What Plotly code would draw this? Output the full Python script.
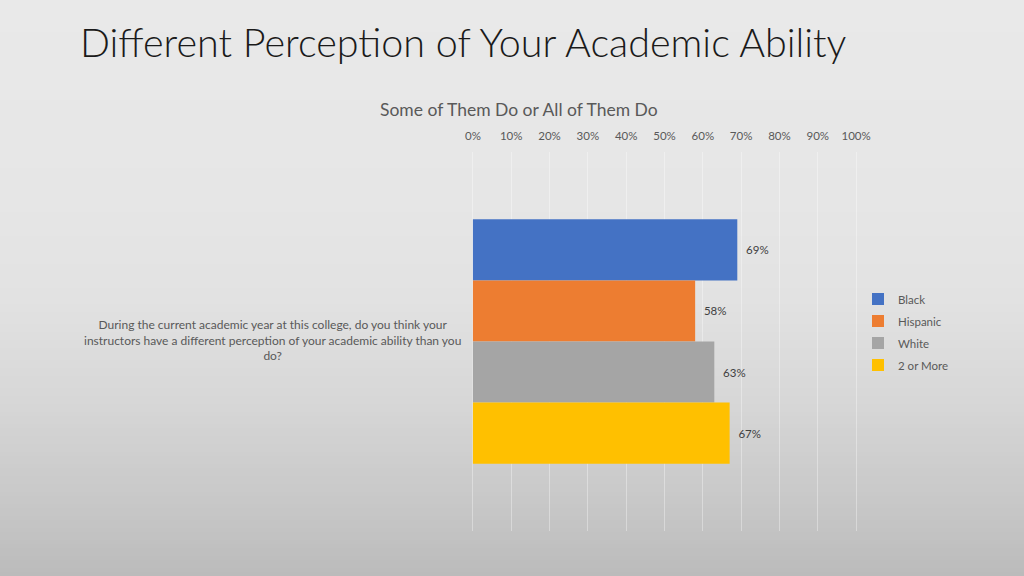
import plotly.graph_objects as go

categories = ["During the current academic year at this college, do you think your<br>instructors have a different perception of your academic ability than you<br>do?"]
series_names = ["Black", "Hispanic", "White", "2 or More"]
series_values = [0.69, 0.58, 0.63, 0.67]
series_colors = ["#4472C4", "#ED7D31", "#A5A5A5", "#FFC000"]
x_ticks = [i / 10 for i in range(11)]

W, H = 1024, 576
L, R, T, B = 471, 166, 152, 45
pw, ph = W - L - R, H - T - B

def px_to_paper_x(px):
    return (px - L) / pw

def px_to_paper_y(py):
    return (H - B - py) / ph

fig = go.Figure()
for name, val, col in zip(series_names, series_values, series_colors):
    fig.add_trace(go.Bar(
        y=[categories[0]], x=[val], name=name, orientation="h",
        marker=dict(color=col, line=dict(width=0)),
        text=[f"\u2002{round(val*100)}%"], textposition="outside",
        textfont=dict(family="Lato", size=11.5, color="#404040"),
        cliponaxis=False, legendgroup=name, hoverinfo="skip",
    ))

# background gradient bands
stops = [(0, 233), (200, 230), (300, 226), (400, 215), (500, 200), (576, 187)]
def gray_at(y):
    for (y0, g0), (y1, g1) in zip(stops[:-1], stops[1:]):
        if y0 <= y <= y1:
            return g0 + (g1 - g0) * (y - y0) / (y1 - y0)
    return stops[-1][1]

shapes = []
step = 4
for y in range(0, H, step):
    g = int(round(gray_at(y + step / 2)))
    shapes.append(dict(
        type="rect", xref="paper", yref="paper", layer="below",
        x0=px_to_paper_x(-2), x1=px_to_paper_x(W + 2),
        y0=px_to_paper_y(y + step + 0.5), y1=px_to_paper_y(y),
        fillcolor=f"rgb({g},{g},{g})", line=dict(width=0),
    ))

annotations = [
    dict(text="Different Perception of Your Academic Ability", xref="paper", yref="paper",
         x=px_to_paper_x(78), y=px_to_paper_y(42), xanchor="left", yanchor="middle",
         showarrow=False, font=dict(family="Lato", size=39.5, color="#1a1a1a", weight=300)),
    dict(text="Some of Them Do or All of Them Do", xref="paper", yref="paper",
         x=px_to_paper_x(519), y=px_to_paper_y(109), xanchor="center", yanchor="middle",
         showarrow=False, font=dict(family="Lato", size=17.5, color="#595959")),
    dict(text=categories[0], xref="paper", yref="paper",
         x=px_to_paper_x(272), y=px_to_paper_y(340), xanchor="center", yanchor="middle",
         align="center", showarrow=False,
         font=dict(family="Lato", size=12, color="#595959")),
]

fig.update_layout(
    width=W, height=H,
    margin=dict(l=L, r=R, t=T, b=B, autoexpand=False),
    paper_bgcolor="#e8e8e8", plot_bgcolor="rgba(0,0,0,0)",
    barmode="group", bargap=0.355, bargroupgap=0,
    shapes=shapes, annotations=annotations,
    showlegend=True,
    legend=dict(x=px_to_paper_x(858), y=px_to_paper_y(332), xanchor="left", yanchor="middle",
                traceorder="grouped", tracegroupgap=3, bgcolor="rgba(0,0,0,0)",
                font=dict(family="Lato", size=11.5, color="#595959"), itemwidth=30),
    xaxis=dict(side="top", range=[-0.005, 1.005], tickvals=x_ticks, tickformat=".0%",
               showgrid=True, gridcolor="rgba(255,255,255,0.35)", gridwidth=1,
               zeroline=False, showline=False, ticks="", ticklabelstandoff=9,
               tickfont=dict(family="Lato", size=11.5, color="#595959"), fixedrange=True),
    yaxis=dict(autorange="reversed", showticklabels=False, showgrid=False,
               zeroline=False, showline=False, ticks="", fixedrange=True),
)

fig.write_html("out.html", config={"displayModeBar": False},
               post_script="document.body.style.margin='0';document.body.style.padding='0';")
